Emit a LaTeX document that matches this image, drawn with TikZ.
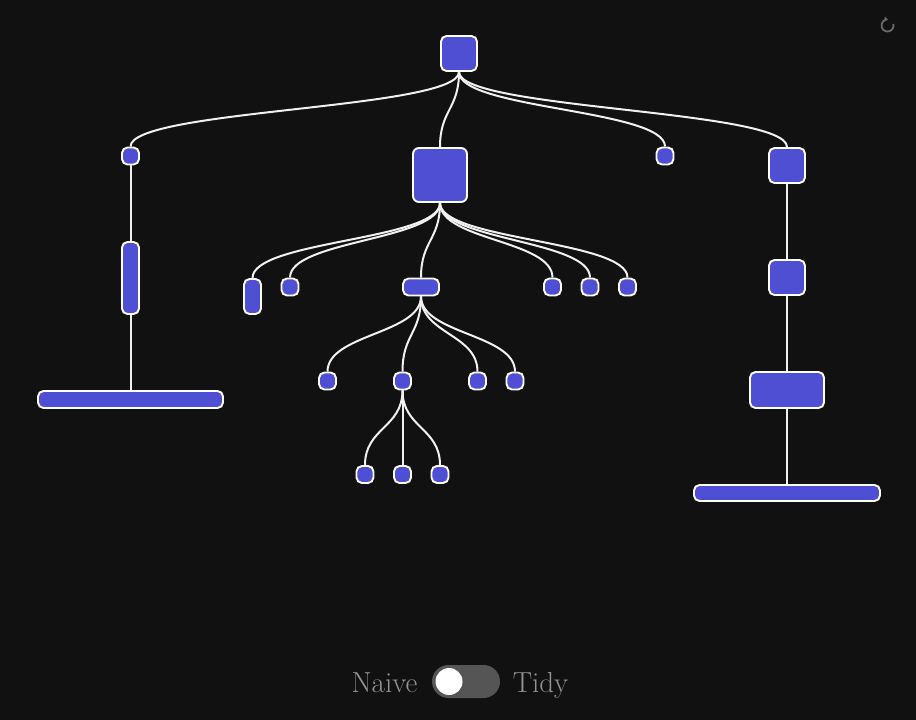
\documentclass[tikz,border=0pt]{standalone}
\usetikzlibrary{calc,arrows.meta}
\definecolor{bg}{HTML}{111111}
\definecolor{nodeblue}{HTML}{4F4FD4}
\definecolor{txtgray}{HTML}{939393}
\definecolor{icongray}{HTML}{6A6A6A}
\definecolor{track}{HTML}{555555}
\tikzset{
  box/.style={draw=white, line width=1.9pt, fill=nodeblue, rounded corners=5.5pt, inner sep=0pt},
  sq/.style={box, minimum width=17pt, minimum height=17pt},
  edge/.style={draw=white!94!black, line width=2pt},
  lbl/.style={text=txtgray, font=\fontsize{29}{32}\selectfont, inner sep=0pt, anchor=base}
}
\newcommand\lnk[2]{\draw[edge] let \p1=(#1.south), \p2=(#2.north) in (\p1) .. controls (\x1,{0.5*(\y1+\y2)}) and (\x2,{0.5*(\y1+\y2)}) .. (\p2);}
\begin{document}
\begin{tikzpicture}[x=1pt,y=-1pt]
\fill[bg] (0,0) rectangle (916,720);
\useasboundingbox (0,0) rectangle (916,720);
% nodes
\node[box, minimum width=36pt, minimum height=35pt] (r) at (459,53.5) {};
\node[sq] (a) at (130.5,156) {};
\node[box, minimum width=54pt, minimum height=54pt, rounded corners=6pt] (b) at (440,175) {};
\node[sq] (c) at (665,156) {};
\node[box, minimum width=36pt, minimum height=35pt] (d) at (787,165.5) {};
\node[box, minimum width=17pt, minimum height=72pt] (a1) at (130.5,278) {};
\node[box, minimum width=185pt, minimum height=17pt] (a2) at (130.5,399.5) {};
\node[box, minimum width=17pt, minimum height=35pt] (b1) at (252.5,296.5) {};
\node[sq] (b2) at (290,287) {};
\node[box, minimum width=36pt, minimum height=17pt] (b3) at (421,287) {};
\node[sq] (b4) at (552.5,287) {};
\node[sq] (b5) at (590,287) {};
\node[sq] (b6) at (627.5,287) {};
\node[sq] (c1) at (327.5,381) {};
\node[sq] (c2) at (402.5,381) {};
\node[sq] (c3) at (477.5,381) {};
\node[sq] (c4) at (515,381) {};
\node[sq] (e1) at (365,474.5) {};
\node[sq] (e2) at (402.5,474.5) {};
\node[sq] (e3) at (440,474.5) {};
\node[box, minimum width=36pt, minimum height=35pt] (d1) at (787,277.5) {};
\node[box, minimum width=74pt, minimum height=36pt] (d2) at (787,390) {};
\node[box, minimum width=186pt, minimum height=16pt] (d3) at (787,493) {};
% edges
\lnk{r}{a}\lnk{r}{b}\lnk{r}{c}\lnk{r}{d}
\lnk{a}{a1}\lnk{a1}{a2}
\lnk{b}{b1}\lnk{b}{b2}\lnk{b}{b3}\lnk{b}{b4}\lnk{b}{b5}\lnk{b}{b6}
\lnk{b3}{c1}\lnk{b3}{c2}\lnk{b3}{c3}\lnk{b3}{c4}
\lnk{c2}{e1}\lnk{c2}{e2}\lnk{c2}{e3}
\lnk{d}{d1}\lnk{d1}{d2}\lnk{d2}{d3}
% toggle
\node[lbl] (naive) at (384.5,692) {Naive};
\node[lbl] (tidy) at (540.5,692) {Tidy};
\fill[track, rounded corners=16.5pt] (432,665) rectangle (500,698);
\node[circle, fill=white, minimum size=27pt, inner sep=0pt] (knob) at (449,681.5) {};
% refresh icon
\begin{scope}[shift={(887.5,25.5)}, y=1pt]
\coordinate (ic) at (0,0);
\draw[icongray, line width=1.8pt, -{Triangle[length=3.5pt,width=5pt]}] (ic) ++(15:6) arc[start angle=15, end angle=-275, radius=6];
\end{scope}
\end{tikzpicture}
\end{document}
